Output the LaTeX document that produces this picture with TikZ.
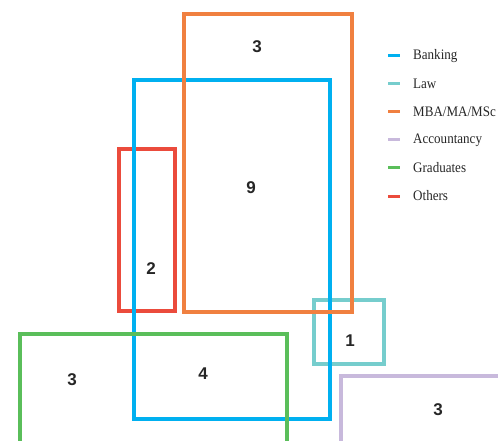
\documentclass[tikz,border=0pt]{standalone}
\usepackage{fontspec}
\setmainfont{Liberation Serif}
\newfontfamily\numfont{Liberation Sans}
\newfontfamily\legendfont[FakeStretch=0.9]{Liberation Serif}
\definecolor{cbank}{RGB}{0,176,240}
\definecolor{claw}{RGB}{118,205,205}
\definecolor{cmba}{RGB}{240,128,64}
\definecolor{cacc}{RGB}{200,185,220}
\definecolor{cgrad}{RGB}{90,190,90}
\definecolor{coth}{RGB}{235,75,60}
\tikzset{
  setbox/.style={line width=3.2pt},
  num/.style={font=\numfont\bfseries\fontsize{17}{19}\selectfont, text=black!85, inner sep=0pt},
  legtext/.style={font=\legendfont\fontsize{14.5}{16}\selectfont, anchor=west, inner sep=0pt, text=black!85},
  legdash/.style={line width=3pt}
}
\begin{document}
\begin{tikzpicture}[x=1pt,y=-1pt]
\useasboundingbox (0,0) rectangle (498,441);
\begin{scope}
\clip (0,0) rectangle (498,441);
% boxes
\draw[setbox, coth] (119,149) rectangle (175,311);
\draw[setbox, claw] (314,300) rectangle (384,364);
\draw[setbox, cbank] (134,80) rectangle (330,419);
\draw[setbox, cmba] (184,14) rectangle (352,312);
\draw[setbox, cgrad] (20,334) rectangle (287,460);
\draw[setbox, cacc] (341,376) rectangle (520,460);
\end{scope}
% numbers
\node[num] (n1) at (257,47) {3};
\node[num] (n2) at (251,188) {9};
\node[num] (n3) at (151,269) {2};
\node[num] (n4) at (350,341) {1};
\node[num] (n5) at (72,380) {3};
\node[num] (n6) at (203,374) {4};
\node[num] (n7) at (438,410) {3};
% legend
\foreach \c/\t/\y [count=\i] in {cbank/Banking/56, claw/Law/84, cmba/MBA\slash MA\slash MSc/112, cacc/Accountancy/140, cgrad/Graduates/168, coth/Others/196}{
  \coordinate (la\i) at (388,\y);
  \coordinate (lb\i) at (400,\y);
  \draw[legdash, \c] (la\i) -- (lb\i);
  \node[legtext] (lt\i) at (413,\y) {\t};
}
\end{tikzpicture}
\end{document}
